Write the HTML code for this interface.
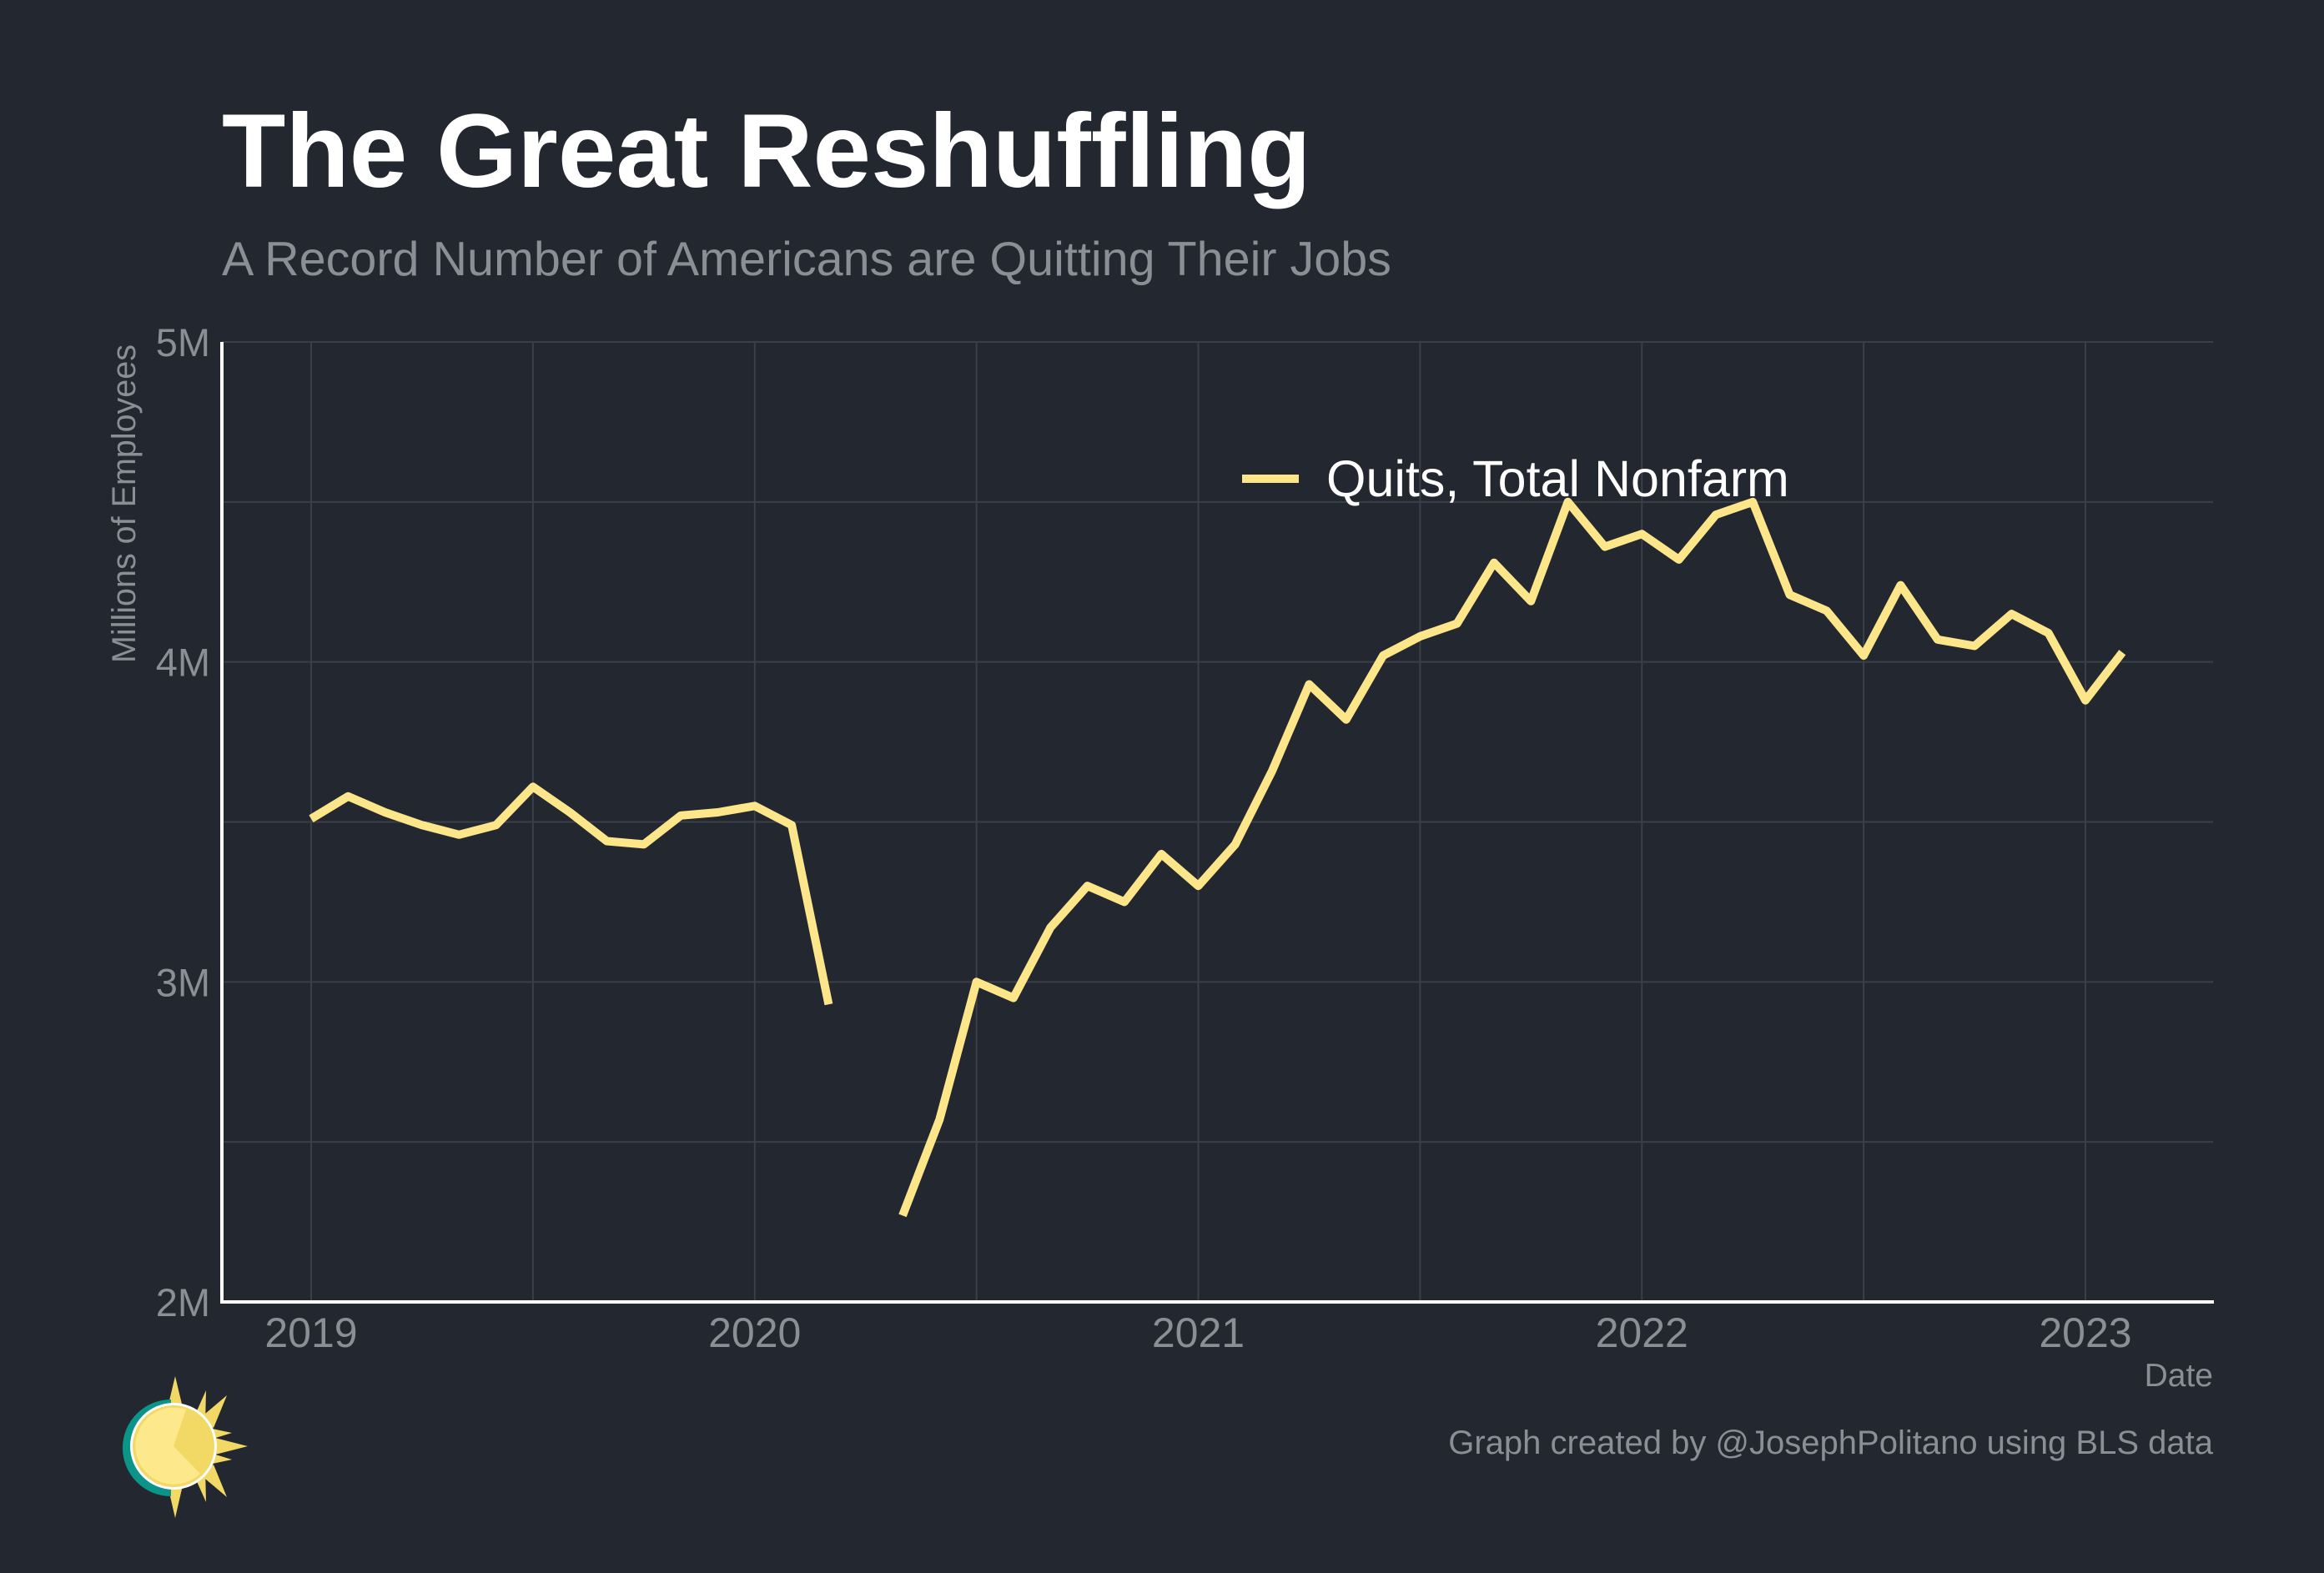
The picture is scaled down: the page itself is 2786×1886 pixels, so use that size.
<!DOCTYPE html>
<html><head><meta charset="utf-8"><style>
html,body{margin:0;padding:0;background:#23272f;}
svg{display:block;font-family:"Liberation Sans",Arial,sans-serif;}
</style></head><body>
<svg id="chart" width="2786" height="1886" viewBox="0 0 2786 1886">
<rect width="2786" height="1886" fill="#23272f"/>
<text x="266" y="224" font-size="125" font-weight="bold" fill="#ffffff">The Great Reshuffling</text>
<text x="266" y="330" font-size="57.5" fill="#8b8e94">A Record Number of Americans are Quitting Their Jobs</text>
<g id="grid"></g>
<g id="ticks"></g>
<line x1="266" y1="410" x2="266" y2="1561" stroke="#ffffff" stroke-width="4"/>
<line x1="264" y1="1561" x2="2654" y2="1561" stroke="#ffffff" stroke-width="4"/>
<text transform="translate(162,604) rotate(-90)" text-anchor="middle" font-size="39.5" fill="#8b8e94">Millions of Employees</text>
<text x="2653" y="1662" text-anchor="end" font-size="39" fill="#8b8e94">Date</text>
<text x="2653" y="1743" text-anchor="end" font-size="40" fill="#8b8e94">Graph created by @JosephPolitano using BLS data</text>
<path id="series" fill="none" stroke="#fde68a" stroke-width="10" stroke-linejoin="round"/>
<g>
<line x1="1489" y1="574" x2="1557" y2="574" stroke="#fde68a" stroke-width="10"/>
<text x="1590" y="595" font-size="61" fill="#ffffff">Quits, Total Nonfarm</text>
</g>
<g>
<polygon points="210,1650 222,1700 198,1700" fill="#f2d865"/>
<polygon points="210,1820 222,1768 198,1768" fill="#f2d865"/>
<polygon points="297,1734 250,1722 250,1746" fill="#f2d865"/>
<polygon points="272,1673 240,1700 256,1712" fill="#f2d865"/>
<polygon points="272,1795 240,1768 256,1756" fill="#f2d865"/>
<polygon points="247,1667 230,1705 246,1708" fill="#f2d865"/>
<polygon points="247,1801 230,1763 246,1760" fill="#f2d865"/>
<polygon points="278,1718 250,1712 252,1726" fill="#f2d865"/>
<polygon points="278,1750 250,1756 252,1742" fill="#f2d865"/>
<path d="M205,1678 A56,56 0 0 0 205,1794 L205,1780 A42,42 0 0 1 205,1688 Z" fill="#0b9488"/>
<circle cx="208" cy="1734" r="52" fill="#ffffff"/>
<circle cx="208" cy="1734" r="49" fill="#f2d865"/>
<path d="M208,1734 L223,1690 A46,46 0 0 0 240,1767 Z" fill="#f2d865"/>
<path d="M208,1734 L223,1690 A46,46 0 1 0 240,1767 Z" fill="#fde98c"/>
</g>
</svg>
<script>
const yearLabels = ["2019","2020","2021","2022","2023"];
const yTicks = [2,3,4,5];
const yTickLabels = ["2M","3M","4M","5M"];
const quits = [
3.51,3.58,3.53,3.49,3.46,3.49,3.61,3.53,3.44,3.43,3.52,3.53,
3.55,3.49,2.93,null,2.27,2.57,3.00,2.95,3.17,3.30,3.25,3.40,
3.30,3.43,3.66,3.93,3.82,4.02,4.08,4.12,4.31,4.19,4.50,4.36,
4.40,4.32,4.46,4.50,4.21,4.16,4.02,4.24,4.07,4.05,4.15,4.09,
3.88,4.03];
const NS="http://www.w3.org/2000/svg";
function xm(m){return 373+m*(2500-373)/48;}
function yv(v){return 1561-(v-2)*(1561-410)/3;}
const grid=document.getElementById('grid'), ticks=document.getElementById('ticks');
for(let v=2.5;v<=5;v+=0.5){
  const l=document.createElementNS(NS,'line');
  l.setAttribute('x1',266);l.setAttribute('x2',2653);l.setAttribute('y1',yv(v));l.setAttribute('y2',yv(v));
  l.setAttribute('stroke','#3b3f47');l.setAttribute('stroke-width',2);
  
  
  grid.appendChild(l);
}
for(let m=0;m<=48;m+=6){
  const l=document.createElementNS(NS,'line');
  l.setAttribute('x1',xm(m));l.setAttribute('x2',xm(m));l.setAttribute('y1',410);l.setAttribute('y2',1561);
  l.setAttribute('stroke','#3b3f47');l.setAttribute('stroke-width',2);
  
  
  grid.appendChild(l);
}
yTicks.forEach((v,i)=>{
  const t=document.createElementNS(NS,'text');
  t.setAttribute('x',252);t.setAttribute('y',yv(v)+17);t.setAttribute('text-anchor','end');
  t.setAttribute('font-size',47);t.setAttribute('fill','#8b8e94');t.textContent=yTickLabels[i];
  
  
  ticks.appendChild(t);
});
yearLabels.forEach((s,i)=>{
  const t=document.createElementNS(NS,'text');
  t.setAttribute('x',xm(i*12));t.setAttribute('y',1615);t.setAttribute('text-anchor','middle');
  t.setAttribute('font-size',50);t.setAttribute('fill','#8b8e94');t.textContent=s;
  
  
  ticks.appendChild(t);
});
let d='',pen=false;
quits.forEach((v,m)=>{
  if(v===null){pen=false;return;}
  d+=(pen?'L':'M')+xm(m).toFixed(1)+','+yv(v).toFixed(1);pen=true;
});
document.getElementById('series').setAttribute('d',d);
</script>
</body></html>
